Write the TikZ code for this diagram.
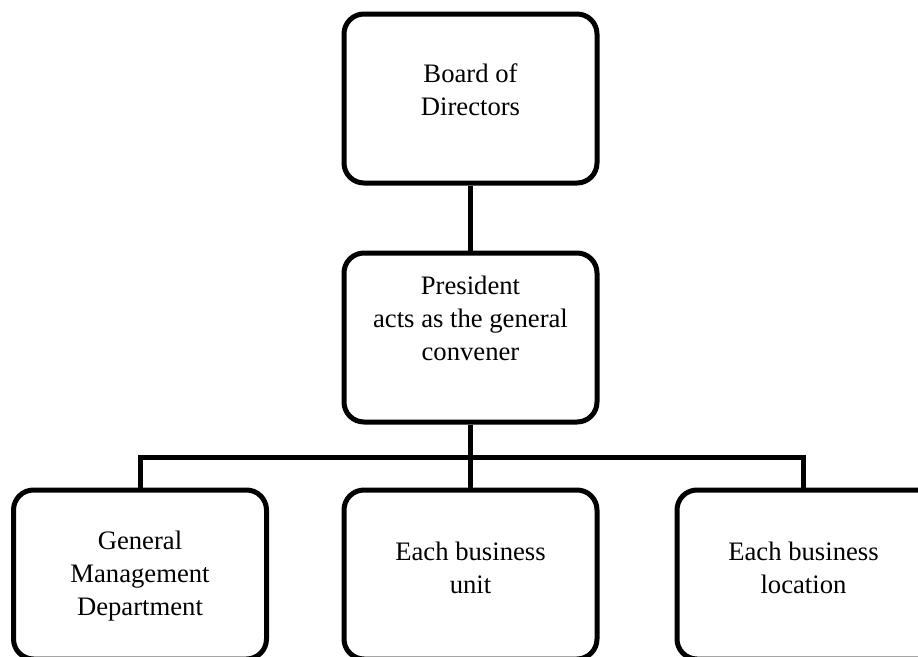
\documentclass[tikz,border=0pt]{standalone}
\usepackage{fontspec}
\setmainfont{Liberation Serif}
\begin{document}
\begin{tikzpicture}[x=0.75pt,y=-0.75pt,
  orgbox/.style={draw=black,fill=white,line width=3.75pt,rounded corners=15pt,
    minimum width=189.75pt,minimum height=126.75pt,inner sep=0pt},
  orgtxt/.style={align=center,inner sep=0pt,font=\fontsize{20pt}{24.75pt}\selectfont},
  conn/.style={draw=black,line width=3.75pt}]
\useasboundingbox (0,0) rectangle (918,657);
\clip (0,0) rectangle (918,657);
\fill[white] (0,0) rectangle (918,657);
\node[orgbox] (bod) at (470.5,98.5) {};
\node[orgbox] (pres) at (470.5,337.5) {};
\node[orgbox] (gmd) at (140,574.5) {};
\node[orgbox] (unit) at (470.5,574.5) {};
\node[orgbox,minimum width=217.5pt] (loc) at (822,574.5) {};
\coordinate (hub) at (470.5,457);
\node[orgtxt] (bodt) at (470.5,90) {Board of\\Directors};
\node[orgtxt] (prest) at (470.5,318) {President\\acts as the general\\convener};
\node[orgtxt] (gmdt) at (140,576) {General\\Management\\Department};
\node[orgtxt] (unitt) at (470.5,567.5) {Each business\\unit};
\node[orgtxt] (loct) at (803.5,567.5) {Each business\\location};
\draw[conn] (bod.south) -- (pres.north);
\draw[conn] (pres.south) -- (hub);
\draw[conn] (gmd.north) |- (hub) -| (loct |- loc.north);
\draw[conn] (hub) -- (unit.north);
\end{tikzpicture}
\end{document}
